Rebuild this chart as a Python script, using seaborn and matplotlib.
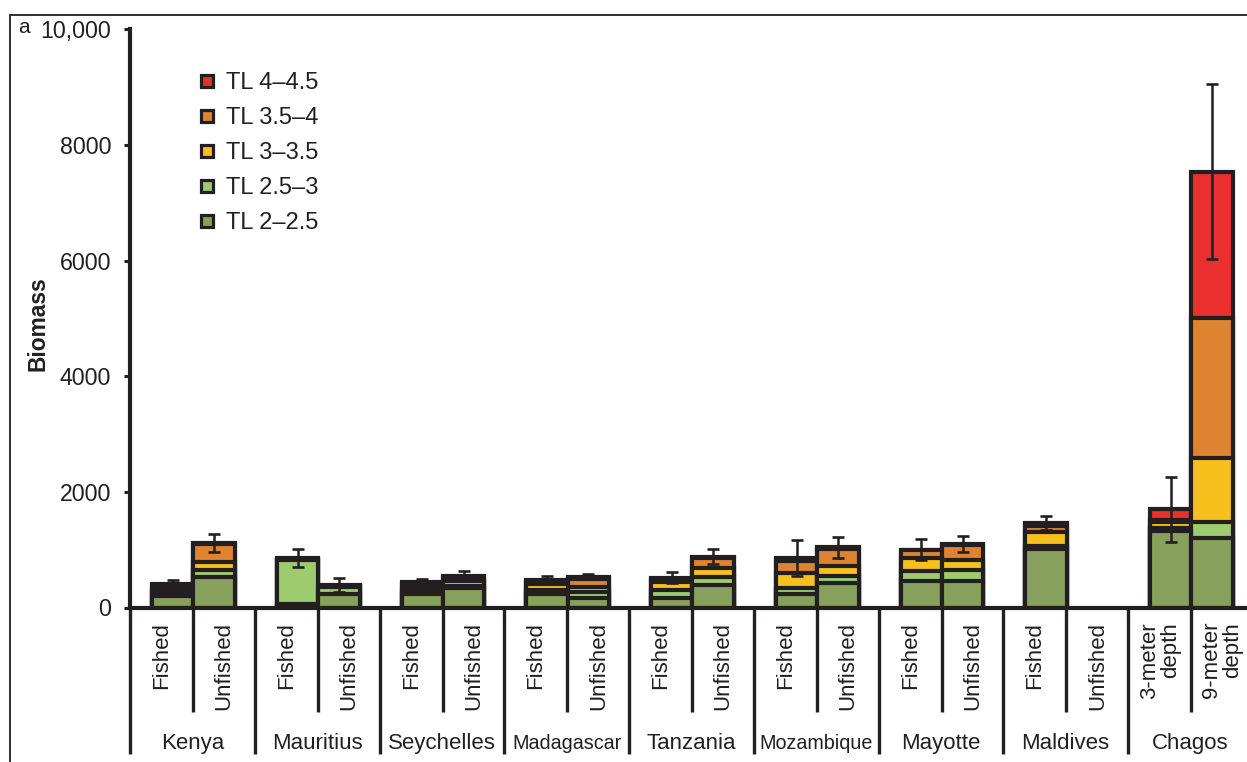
import numpy as np
import pandas as pd
import matplotlib
matplotlib.use("Agg")
import matplotlib.pyplot as plt
import matplotlib.transforms as mtransforms
from matplotlib.lines import Line2D
from matplotlib.patches import Rectangle
import seaborn as sns

# ---------------- data ----------------
countries = ["Kenya", "Mauritius", "Seychelles", "Madagascar", "Tanzania",
             "Mozambique", "Mayotte", "Maldives", "Chagos"]
site_labels = ["Fished", "Unfished"] * 8 + ["3-meter\ndepth", "9-meter\ndepth"]
layer_names = ["TL 2–2.5", "TL 2.5–3", "TL 3–3.5", "TL 3.5–4", "TL 4–4.5"]
layer_colors = ["#87A05B", "#9DCB6E", "#F6C11C", "#DE8431", "#E9302F"]

tl_2_25 = [199, 527, 60, 237, 233, 340, 236, 167, 167, 397, 236, 432, 466, 466, 1019, 0, 1320, 1204]
tl_25_3 = [50, 130, 753, 117, 60, 25, 64, 109, 138, 133, 106, 120, 160, 190, 37, 0, 52, 272]
tl_3_35 = [50, 135, 15, 12, 50, 100, 109, 86, 133, 156, 257, 169, 232, 169, 251, 0, 104, 1110]
tl_35_4 = [60, 308, 15, 13, 58, 50, 45, 139, 47, 172, 202, 299, 134, 253, 100, 0, 29, 2422]
tl_4_45 = [40, 15, 13, 10, 40, 38, 30, 35, 30, 24, 51, 23, 11, 20, 51, 0, 190, 2530]
biomass_se = [77, 158, 150, 116, 47, 83, 61, 50, 93, 124, 311, 182, 182, 130, 121, np.nan, 570, 1510]

ytick_vals = [0, 2000, 4000, 6000, 8000, 10000]
ytick_labels = ["0", "2000", "4000", "6000", "8000", "10,000"]

# ---------------- style ----------------
EDGE = "#231F20"
sns.set_theme(style="white")
plt.rcParams["font.family"] = ["Liberation Sans", "DejaVu Sans"]
plt.rcParams["text.color"] = EDGE

W, H = 1247, 762
fig = plt.figure(figsize=(W / 100, H / 100), dpi=100)
ax = fig.add_axes([130 / W, (H - 607.5) / H, (W - 130) / W, (607.5 - 29.3) / H])

n_groups = len(countries)
offsets = np.array([0.343, 0.675])
pos = (np.arange(n_groups)[:, None] + offsets[None, :]).ravel()

layers = np.array([tl_2_25, tl_25_3, tl_3_35, tl_35_4, tl_4_45], dtype=float)
cum = np.cumsum(layers, axis=0)
total = cum[-1]

df = pd.DataFrame({
    "pos": np.tile(pos, len(layer_names)),
    "layer": np.repeat(layer_names, len(pos)),
    "cum": cum.ravel(),
})

# draw cumulative layers from top to bottom so each one overlays the previous
for i in range(len(layer_names) - 1, -1, -1):
    sub = df[(df["layer"] == layer_names[i]) & (df["cum"] > 0)]
    sns.barplot(data=sub, x="pos", y="cum", native_scale=True, orient="x",
                color=layer_colors[i], saturation=1, edgecolor=EDGE,
                linewidth=3.0, width=1.0, errorbar=None, ax=ax)

ax.errorbar(pos, total, yerr=biomass_se, fmt="none", ecolor=EDGE,
            elinewidth=1.8, capsize=4.2, capthick=1.9, zorder=5)

# ---------------- axes ----------------
ax.set_xlim(0, (W - 130) / 124.75)
ax.set_ylim(0, 10000)
ax.set_xticks([])
ax.set_xlabel("")
ax.set_yticks(ytick_vals)
ax.set_yticklabels(ytick_labels, fontsize=16.7, color=EDGE)
ax.tick_params(axis="y", direction="out", length=4.5, width=2.2, pad=9,
               color=EDGE, left=True)
for s in ["top", "right"]:
    ax.spines[s].set_visible(False)
for s in ["left", "bottom"]:
    ax.spines[s].set_color(EDGE)
    ax.spines[s].set_linewidth(3.0)
ax.set_ylabel("Biomass", fontsize=16.4, fontweight="bold", color=EDGE)
ax.yaxis.set_label_coords(-0.0725, 0.49)

# ---------------- category labels below the axis ----------------
trans = mtransforms.blended_transform_factory(ax.transData, ax.transAxes)
for g in range(n_groups + 1):
    ax.plot([g, g], [0, -0.2534], transform=trans, clip_on=False,
            color=EDGE, lw=2.4, solid_capstyle="butt")
for g in range(n_groups):
    ax.plot([g + 0.506] * 2, [0, -0.1807], transform=trans, clip_on=False,
            color=EDGE, lw=2.4, solid_capstyle="butt")

cell_centers = [0.255, 0.755]
for g in range(n_groups):
    for j in range(2):
        ax.text(g + cell_centers[j], -0.0250, site_labels[2 * g + j],
                transform=trans, rotation=90, ha="center", va="top",
                multialignment="right", linespacing=1.0, fontsize=16)

for g, c in enumerate(countries):
    fs = 14.2 if c in ("Madagascar", "Mozambique") else 16
    ax.text(g + 0.5, -0.2447, c, transform=trans, ha="center",
            va="baseline", fontsize=fs)

# ---------------- legend ----------------
handles = [Line2D([], [], ls="none", marker="s", markersize=9,
                  markerfacecolor=layer_colors[i], markeredgecolor=EDGE,
                  markeredgewidth=2.3) for i in range(4, -1, -1)]
labels = [layer_names[i] for i in range(4, -1, -1)]
ax.legend(handles, labels, loc="upper left", bbox_to_anchor=(0.0618, 0.926),
          frameon=False, fontsize=17, handlelength=0.7, handletextpad=0.45,
          labelspacing=0.55, borderpad=0, borderaxespad=0)

# ---------------- panel frame & letter ----------------
fig.add_artist(Rectangle((10 / W, -1), 2, 2 - 15 / H, transform=fig.transFigure,
                         fill=False, lw=1.3, edgecolor=EDGE))
fig.text(18 / W, 1 - 33 / H, "a", fontsize=15, va="baseline", ha="left", color=EDGE)

fig.savefig("out.png", dpi=100)
